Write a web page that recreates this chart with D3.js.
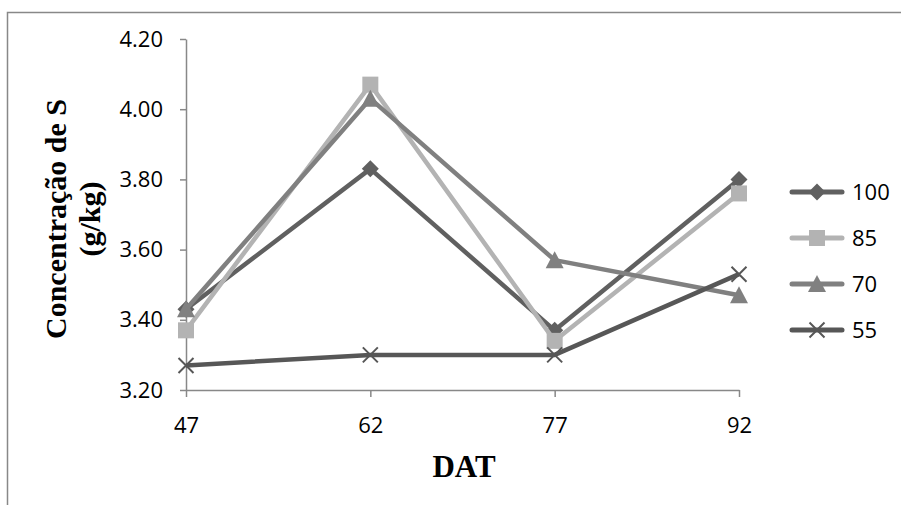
<!DOCTYPE html>
<html>
<head>
<meta charset="utf-8">
<script src="https://cdn.jsdelivr.net/npm/d3@7/dist/d3.min.js"></script>
<style>
  html, body { margin: 0; padding: 0; background: #fff; }
  svg { display: block; }
</style>
</head>
<body>
<svg id="chart" width="901" height="505"></svg>
<script>
// Days after transplanting (DAT)
const categories = ["47", "62", "77", "92"];
// Sulfur concentration (g/kg) for each treatment
const s100 = [3.43, 3.83, 3.37, 3.80];
const s85  = [3.37, 4.07, 3.34, 3.76];
const s70  = [3.43, 4.03, 3.57, 3.47];
const s55  = [3.27, 3.30, 3.30, 3.53];
const seriesNames = ["100", "85", "70", "55"];
const yTicks = [3.20, 3.40, 3.60, 3.80, 4.00, 4.20];

const seriesValues = [s100, s85, s70, s55];
const seriesColors = ["#606060", "#b3b3b3", "#808080", "#575757"];
const seriesMarkers = ["diamond", "square", "triangle", "cross"];

const svg = d3.select("#chart");
const axisColor = "#888888";
const tickFont = "'Open Sans', 'DejaVu Sans', sans-serif";
const titleFont = "'Liberation Serif', 'Times New Roman', serif";

// outer chart frame
svg.append("path")
  .attr("d", "M7.5,505 V12.5 H901")
  .attr("fill", "none")
  .attr("stroke", axisColor)
  .attr("stroke-width", 1.5);

const x = d3.scalePoint().domain(categories).range([186, 739]);
const y = d3.scaleLinear().domain([3.2, 4.2]).range([390, 39]);

// y axis
const yAxis = svg.append("g")
  .attr("transform", "translate(186,0)")
  .call(d3.axisLeft(y).tickValues(yTicks).tickFormat(d3.format(".2f"))
    .tickSize(6).tickSizeOuter(0).tickPadding(17));
yAxis.select(".domain").attr("stroke", axisColor).attr("stroke-width", 1.5);
yAxis.selectAll(".tick line").attr("stroke", axisColor).attr("stroke-width", 1.5);
yAxis.selectAll(".tick text")
  .attr("fill", "#000").style("font-family", tickFont).style("font-size", "22px");

// x axis
const xAxis = svg.append("g")
  .attr("transform", "translate(0,390)")
  .call(d3.axisBottom(x).tickSize(7).tickSizeOuter(0).tickPadding(20));
xAxis.select(".domain").attr("stroke", axisColor).attr("stroke-width", 1.5);
xAxis.selectAll(".tick line").attr("stroke", axisColor).attr("stroke-width", 1.5);
xAxis.selectAll(".tick text")
  .attr("fill", "#000").style("font-family", tickFont).style("font-size", "22px");

// axis titles
svg.append("text")
  .attr("x", 464).attr("y", 477)
  .attr("text-anchor", "middle")
  .style("font-family", titleFont).style("font-weight", "bold").style("font-size", "31px")
  .text("DAT");

const yTitle = svg.append("text")
  .attr("transform", "translate(66,219) rotate(-90)")
  .attr("text-anchor", "middle")
  .style("font-family", titleFont).style("font-weight", "bold").style("font-size", "30px");
yTitle.append("tspan").attr("x", 0).attr("y", 0).text("Concentração de S");
yTitle.append("tspan").attr("x", 0).attr("y", 34).text("(g/kg)");

// marker shapes
function markerPath(kind) {
  switch (kind) {
    case "diamond": return "M0,-8.5L8.5,0L0,8.5L-8.5,0Z";
    case "square": return "M-8,-8H8V8H-8Z";
    case "triangle": return "M0,-9L9,8H-9Z";
    case "cross": return "M-7.5,-7.5L7.5,7.5M7.5,-7.5L-7.5,7.5";
  }
}
function drawMarker(g, kind, color) {
  const p = g.append("path").attr("d", markerPath(kind));
  if (kind === "cross") {
    p.attr("fill", "none").attr("stroke", color).attr("stroke-width", 2);
  } else {
    p.attr("fill", color).attr("stroke", "none");
  }
}

const line = d3.line().x((d, i) => x(categories[i])).y(d => y(d));

seriesValues.forEach((vals, si) => {
  const g = svg.append("g");
  g.append("path")
    .attr("d", line(vals))
    .attr("fill", "none")
    .attr("stroke", seriesColors[si])
    .attr("stroke-width", 4.5)
    .attr("stroke-linejoin", "round");
  vals.forEach((v, i) => {
    const m = g.append("g").attr("transform", `translate(${x(categories[i])},${y(v)})`);
    drawMarker(m, seriesMarkers[si], seriesColors[si]);
  });
});

// legend
const legendRows = [192, 238, 284, 330];
seriesNames.forEach((name, si) => {
  const g = svg.append("g").attr("transform", `translate(0,${legendRows[si]})`);
  g.append("line")
    .attr("x1", 792).attr("x2", 842).attr("y1", 0).attr("y2", 0)
    .attr("stroke", seriesColors[si]).attr("stroke-width", 5)
    .attr("stroke-linecap", "round");
  const m = g.append("g").attr("transform", "translate(817,0)");
  drawMarker(m, seriesMarkers[si], seriesColors[si]);
  g.append("text")
    .attr("x", 852).attr("y", 0).attr("dy", "0.36em")
    .style("font-family", tickFont).style("font-size", "22px")
    .text(name);
});
</script>
</body>
</html>
